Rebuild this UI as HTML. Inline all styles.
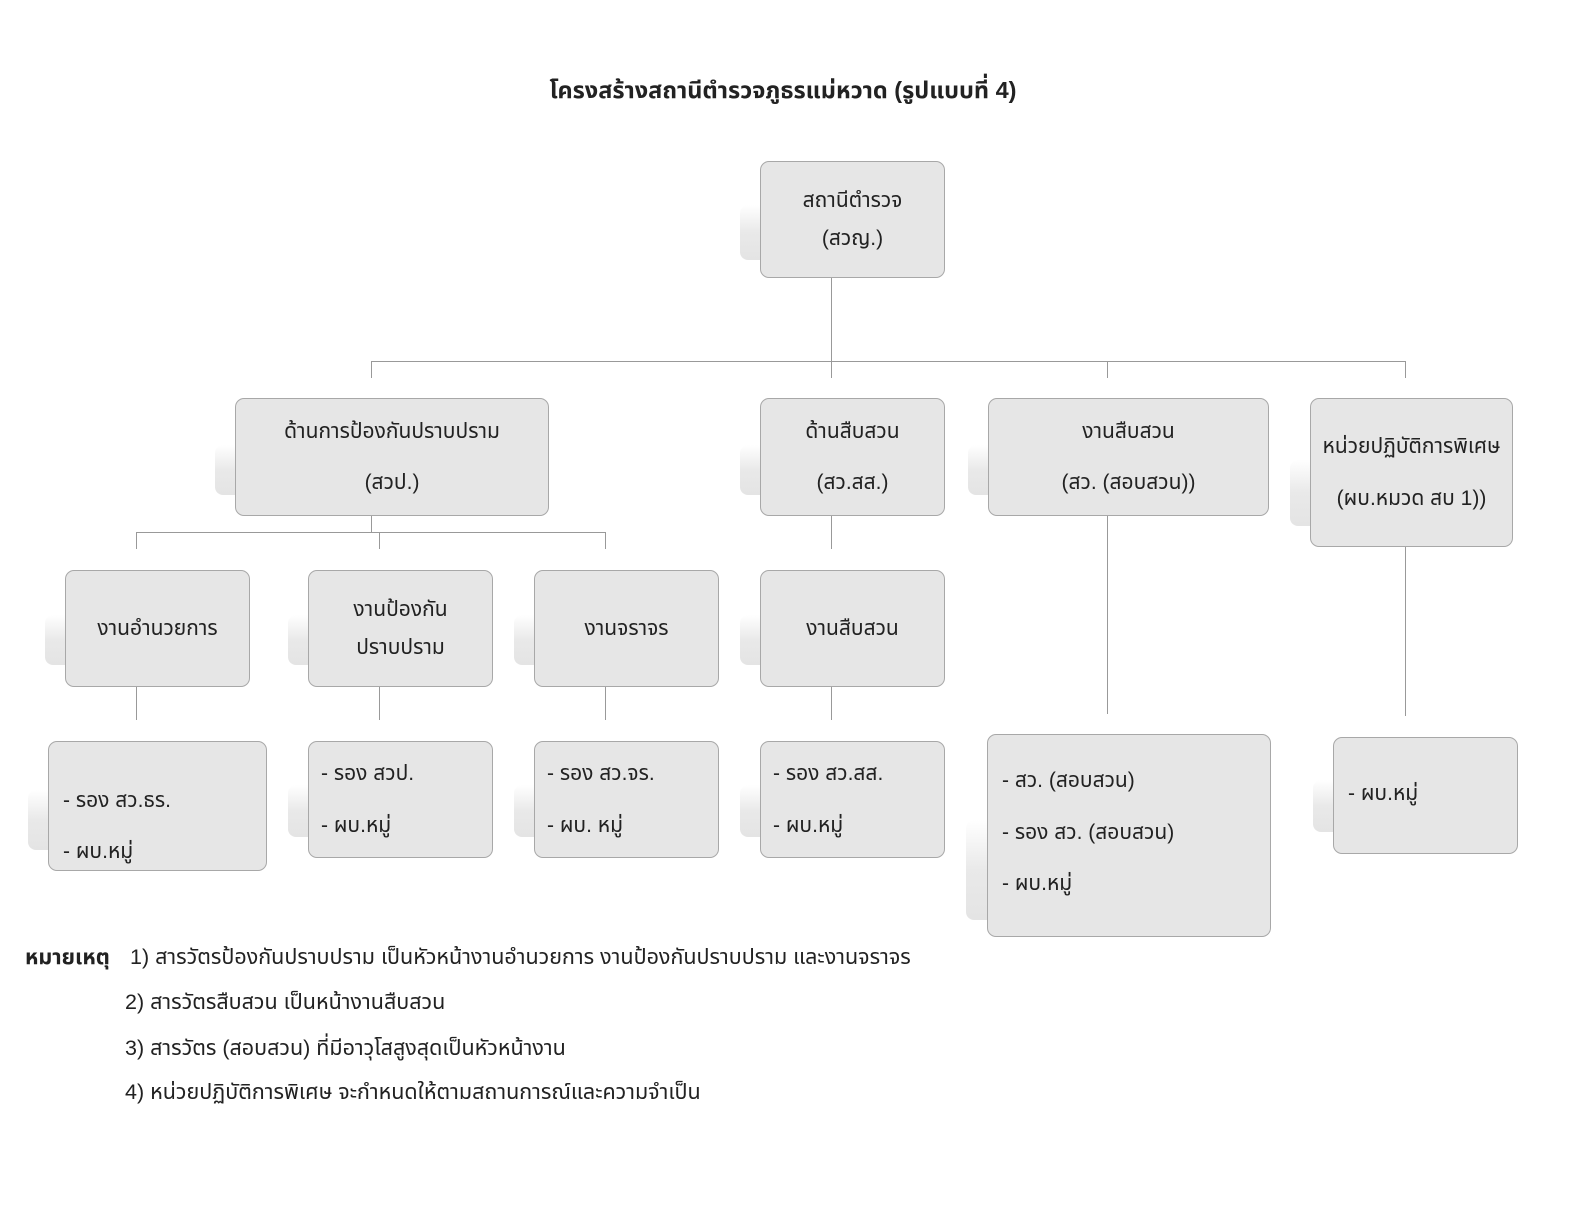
<!DOCTYPE html>
<html><head><meta charset="utf-8">
<style>
body{margin:0;width:1584px;height:1224px;background:#fff;position:relative;font-family:"Liberation Sans","DejaVu Sans","Noto Sans Thai",sans-serif;color:#222;overflow:hidden}
.b{position:absolute;background:#e6e6e6;border:1px solid #a8a8a8;border-radius:9px;box-sizing:border-box;font-size:21px;display:flex;flex-direction:column;justify-content:center;align-items:center;line-height:1.8}
.b.l{align-items:flex-start;padding-left:14px}
.s{position:absolute;background:linear-gradient(#fff,#e9e9e9 50%,#e4e4e4);border-radius:8px}
.ln{position:absolute;background:#999}
.t{position:absolute;font-size:21.5px;white-space:nowrap}
</style></head><body>
<div class="t" style="left:0;width:1566px;text-align:center;top:73px;font-weight:bold;font-size:23.5px">โครงสร้างสถานีตำรวจภูธรแม่หวาด (รูปแบบที่ 4)</div>

<div class="ln" style="left:831px;top:277px;width:1px;height:84px"></div>
<div class="ln" style="left:371px;top:361px;width:1035px;height:1px"></div>
<div class="ln" style="left:371px;top:361px;width:1px;height:17px"></div>
<div class="ln" style="left:831px;top:361px;width:1px;height:17px"></div>
<div class="ln" style="left:1107px;top:361px;width:1px;height:17px"></div>
<div class="ln" style="left:1405px;top:361px;width:1px;height:17px"></div>
<div class="ln" style="left:371px;top:515px;width:1px;height:17px"></div>
<div class="ln" style="left:136px;top:532px;width:470px;height:1px"></div>
<div class="ln" style="left:136px;top:532px;width:1px;height:17px"></div>
<div class="ln" style="left:379px;top:532px;width:1px;height:17px"></div>
<div class="ln" style="left:605px;top:532px;width:1px;height:17px"></div>
<div class="ln" style="left:831px;top:515px;width:1px;height:34px"></div>
<div class="ln" style="left:136px;top:686px;width:1px;height:34px"></div>
<div class="ln" style="left:379px;top:686px;width:1px;height:34px"></div>
<div class="ln" style="left:605px;top:686px;width:1px;height:34px"></div>
<div class="ln" style="left:831px;top:686px;width:1px;height:34px"></div>
<div class="ln" style="left:1107px;top:515px;width:1px;height:199px"></div>
<div class="ln" style="left:1405px;top:546px;width:1px;height:170px"></div>

<div class="s" style="left:740px;top:205px;width:170px;height:55px"></div>
<div class="s" style="left:215px;top:445px;width:300px;height:50px"></div>
<div class="s" style="left:740px;top:445px;width:170px;height:50px"></div>
<div class="s" style="left:968px;top:445px;width:270px;height:50px"></div>
<div class="s" style="left:1290px;top:460px;width:190px;height:66px"></div>
<div class="s" style="left:45px;top:615px;width:175px;height:50px"></div>
<div class="s" style="left:288px;top:615px;width:175px;height:50px"></div>
<div class="s" style="left:514px;top:615px;width:175px;height:50px"></div>
<div class="s" style="left:740px;top:615px;width:175px;height:50px"></div>
<div class="s" style="left:28px;top:790px;width:210px;height:60px"></div>
<div class="s" style="left:288px;top:785px;width:175px;height:52px"></div>
<div class="s" style="left:514px;top:785px;width:175px;height:52px"></div>
<div class="s" style="left:740px;top:785px;width:175px;height:52px"></div>
<div class="s" style="left:966px;top:820px;width:285px;height:100px"></div>
<div class="s" style="left:1313px;top:780px;width:175px;height:52px"></div>

<div class="b" style="left:760px;top:161px;width:185px;height:117px"><div>สถานีตำรวจ</div><div>(สวญ.)</div></div>
<div class="b" style="left:235px;top:398px;width:314px;height:118px;line-height:2.45"><div>ด้านการป้องกันปราบปราม</div><div>(สวป.)</div></div>
<div class="b" style="left:760px;top:398px;width:185px;height:118px;line-height:2.45"><div>ด้านสืบสวน</div><div>(สว.สส.)</div></div>
<div class="b" style="left:988px;top:398px;width:281px;height:118px;line-height:2.45"><div>งานสืบสวน</div><div>(สว. (สอบสวน))</div></div>
<div class="b" style="left:1310px;top:398px;width:203px;height:149px;line-height:2.45"><div>หน่วยปฏิบัติการพิเศษ</div><div>(ผบ.หมวด สบ 1))</div></div>
<div class="b" style="left:65px;top:570px;width:185px;height:117px">งานอำนวยการ</div>
<div class="b" style="left:308px;top:570px;width:185px;height:117px"><div>งานป้องกัน</div><div>ปราบปราม</div></div>
<div class="b" style="left:534px;top:570px;width:185px;height:117px">งานจราจร</div>
<div class="b" style="left:760px;top:570px;width:185px;height:117px">งานสืบสวน</div>
<div class="b l" style="left:48px;top:741px;width:219px;height:130px;line-height:2.45;padding-top:40px"><div>- รอง สว.ธร.</div><div>- ผบ.หมู่</div></div>
<div class="b l" style="left:308px;top:741px;width:185px;height:117px;line-height:2.45;padding-left:12px"><div>- รอง สวป.</div><div>- ผบ.หมู่</div></div>
<div class="b l" style="left:534px;top:741px;width:185px;height:117px;line-height:2.45;padding-left:12px"><div>- รอง สว.จร.</div><div>- ผบ. หมู่</div></div>
<div class="b l" style="left:760px;top:741px;width:185px;height:117px;line-height:2.45;padding-left:12px"><div>- รอง สว.สส.</div><div>- ผบ.หมู่</div></div>
<div class="b l" style="left:987px;top:734px;width:284px;height:203px;line-height:2.45;padding-bottom:6px"><div>- สว. (สอบสวน)</div><div>- รอง สว. (สอบสวน)</div><div>- ผบ.หมู่</div></div>
<div class="b l" style="left:1333px;top:737px;width:185px;height:117px;padding-bottom:4px">- ผบ.หมู่</div>

<div class="t" style="left:25px;top:941px;font-weight:bold">หมายเหตุ</div>
<div class="t" style="left:130px;top:941px">1) สารวัตรป้องกันปราบปราม เป็นหัวหน้างานอำนวยการ งานป้องกันปราบปราม และงานจราจร</div>
<div class="t" style="left:125px;top:986px">2) สารวัตรสืบสวน เป็นหน้างานสืบสวน</div>
<div class="t" style="left:125px;top:1032px">3) สารวัตร (สอบสวน) ที่มีอาวุโสสูงสุดเป็นหัวหน้างาน</div>
<div class="t" style="left:125px;top:1076px">4) หน่วยปฏิบัติการพิเศษ จะกำหนดให้ตามสถานการณ์และความจำเป็น</div>
</body></html>
